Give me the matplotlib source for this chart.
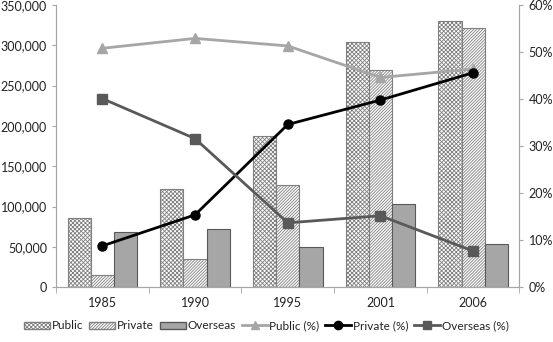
import numpy as np
import matplotlib
matplotlib.use("Agg")
import matplotlib.pyplot as plt
from matplotlib.patches import Patch
from matplotlib.lines import Line2D
from matplotlib.ticker import FuncFormatter, MultipleLocator, FixedLocator

plt.rcParams["font.family"] = ["Lato", "DejaVu Sans"]
plt.rcParams["hatch.linewidth"] = 0.6

years = ["1985", "1990", "1995", "2001", "2006"]
public = [86000, 122000, 188000, 304000, 330000]
private = [15000, 35000, 127000, 270000, 322000]
overseas = [68000, 72000, 50000, 103000, 54000]
public_pct = [50.8, 52.9, 51.3, 44.6, 46.4]
private_pct = [8.8, 15.4, 34.6, 39.8, 45.6]
overseas_pct = [40.1, 31.6, 13.7, 15.2, 7.7]

AXIS = "#A6A6A6"
TXT = "#222222"
HATCH_PUB = "xxxxxxxx"
HATCH_PRI = "///////////"

fig = plt.figure(figsize=(5.53, 3.42), dpi=100)
ax = fig.add_axes([0.1013, 0.16, 0.8381, 0.8254])
x = np.arange(len(years))
w = 0.25

ax.bar(x - w, public, w, color="white", edgecolor="#7F7F7F", hatch=HATCH_PUB, linewidth=0.8)
ax.bar(x, private, w, color="white", edgecolor="#7F7F7F", hatch=HATCH_PRI, linewidth=0.8)
ax.bar(x + w, overseas, w, color="#A6A6A6", edgecolor="#595959", linewidth=0.8)

ax.set_xlim(-0.5, len(years) - 0.5)
ax.set_ylim(0, 350000)
ax.yaxis.set_major_locator(MultipleLocator(50000))
ax.yaxis.set_major_formatter(FuncFormatter(lambda v, p: f"{int(v):,}"))
ax.set_xticks(x)
ax.set_xticklabels(years)
ax.xaxis.set_minor_locator(FixedLocator(np.arange(-0.5, len(years), 1.0)))
ax.tick_params(axis="x", which="major", length=0, pad=7, labelsize=9, labelcolor=TXT)
ax.tick_params(axis="x", which="minor", length=4, color=AXIS)
ax.tick_params(axis="y", length=3, color=AXIS, labelsize=9, labelcolor=TXT)

ax2 = ax.twinx()
ax2.plot(x, public_pct, color="#A6A6A6", lw=2, marker="^", ms=6.5)
ax2.plot(x, private_pct, color="black", lw=2, marker="o", ms=6.5)
ax2.plot(x, overseas_pct, color="#595959", lw=2, marker="s", ms=6.5)
ax2.set_ylim(0, 60)
ax2.yaxis.set_major_locator(MultipleLocator(10))
ax2.yaxis.set_major_formatter(FuncFormatter(lambda v, p: f"{int(v)}%"))
ax2.tick_params(axis="y", length=3, color=AXIS, labelsize=9, labelcolor=TXT)

for a in (ax, ax2):
    a.spines["top"].set_visible(False)
    for s in ("left", "right", "bottom"):
        a.spines[s].set_color(AXIS)

handles = [
    Patch(facecolor="white", edgecolor="#7F7F7F", hatch=HATCH_PUB, label="Public"),
    Patch(facecolor="white", edgecolor="#7F7F7F", hatch=HATCH_PRI, label="Private"),
    Patch(facecolor="#A6A6A6", edgecolor="#595959", label="Overseas"),
    Line2D([], [], color="#A6A6A6", lw=2, marker="^", ms=6, label="Public (%)"),
    Line2D([], [], color="black", lw=2, marker="o", ms=6, label="Private (%)"),
    Line2D([], [], color="#595959", lw=2, marker="s", ms=6, label="Overseas (%)"),
]
fig.legend(handles=handles, loc="center", bbox_to_anchor=(0.482, 0.047), ncol=6,
           frameon=False, fontsize=8.5, handlelength=2.2, handleheight=0.6,
           handletextpad=0.15, columnspacing=0.5, borderaxespad=0, borderpad=0,
           labelcolor=TXT)

fig.savefig("out.png", dpi=100)
